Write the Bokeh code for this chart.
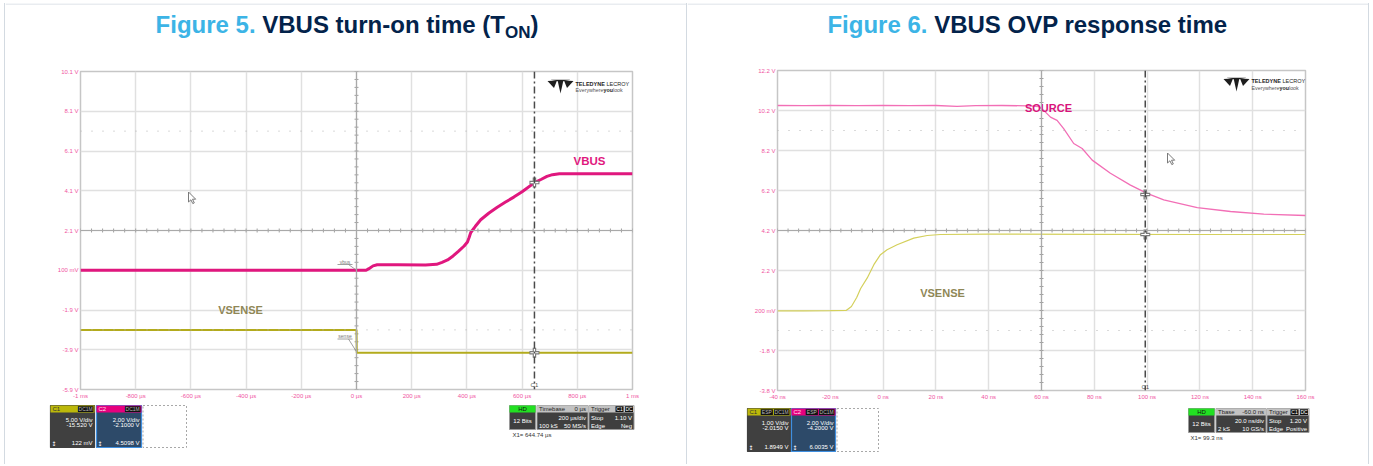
import numpy as np
from bokeh.plotting import figure
from bokeh.models import Range1d, FixedTicker, Span, Spacer
from bokeh.layouts import row, column
from bokeh.embed import file_html
from bokeh.resources import INLINE
from bokeh.core.properties import value

# ---------------- Figure 5 : VBUS turn-on time ----------------
f5_vbus_t_us = [-1000, 35, 45, 60, 75, 150, 250, 290, 310, 330, 350, 370, 390, 402, 408, 414,
                430, 450, 480, 510, 540, 570, 600, 645, 670, 690, 710, 735, 1000]
f5_vbus_v = [0.10, 0.10, 0.18, 0.32, 0.38, 0.38, 0.36, 0.40, 0.50, 0.62, 0.82, 1.06, 1.32, 1.52, 1.75, 2.00,
             2.30, 2.64, 2.98, 3.27, 3.53, 3.78, 4.05, 4.51, 4.68, 4.82, 4.91, 4.96, 4.96]
f5_vsense_t_us = [-1000, 0, 1, 1000]
f5_vsense_v = [-2.9, -2.9, -4.05, -4.05]
f5_x_ticks = [-1000, -800, -600, -400, -200, 0, 200, 400, 600, 800, 1000]
f5_x_labels = ["-1 ms", "-800 µs", "-600 µs", "-400 µs", "-200 µs", "0 µs", "200 µs", "400 µs",
               "600 µs", "800 µs", "1 ms"]
f5_y_ticks = [-5.9, -3.9, -1.9, 0.1, 2.1, 4.1, 6.1, 8.1, 10.1]
f5_y_labels = ["-5.9 V", "-3.9 V", "-1.9 V", "100 mV", "2.1 V", "4.1 V", "6.1 V", "8.1 V", "10.1 V"]
f5_cursor_t = 644.74
f5_cursor_v = [4.51, -4.05]
f5_channels = [("C1", ["DC1M"], "5.00 V/div", "-15.520 V", "122 mV"),
               ("C2", ["DC1M"], "2.00 V/div", "-2.1000 V", "4.5098 V")]
f5_timebase = ("Timebase", "0 µs", "200 µs/div", "100 kS", "50 MS/s")
f5_trigger = ("Trigger", ["C1", "DC"], "Stop", "1.10 V", "Edge", "Neg")
f5_readout = "X1=  644.74 µs"

# ---------------- Figure 6 : VBUS OVP response time ----------------
f6_source_t_ns = [-40, -30, -20, -10, 0, 10, 20, 28, 35, 45, 55, 59, 61.5, 63.4, 65.9, 68.4, 72.2, 75.4,
                  79.2, 86.1, 93.7, 100, 106.3, 119, 131.6, 144.2, 160]
f6_source_v = [10.45, 10.44, 10.46, 10.44, 10.45, 10.44, 10.45, 10.41, 10.44, 10.45, 10.43, 10.40, 10.12,
               9.87, 9.71, 9.29, 8.55, 8.30, 7.72, 7.06, 6.47, 6.06, 5.73, 5.34, 5.15, 5.02, 4.95]
f6_vsense_t_ns = [-40, -30, -20, -14, -12, -10, -8.5, -6, -3.5, -1, 1.5, 5.3, 11.6, 16.7, 21.7, 40, 80, 120, 160]
f6_vsense_v = [0.18, 0.18, 0.19, 0.20, 0.40, 0.85, 1.30, 1.83, 2.49, 2.99, 3.24, 3.49, 3.82, 3.95, 4.00,
               4.02, 4.01, 4.00, 4.00]
f6_x_ticks = [-40, -20, 0, 20, 40, 60, 80, 100, 120, 140, 160]
f6_x_labels = ["-40 ns", "-20 ns", "0 ns", "20 ns", "40 ns", "60 ns", "80 ns", "100 ns", "120 ns",
               "140 ns", "160 ns"]
f6_y_ticks = [-3.8, -1.8, 0.2, 2.2, 4.2, 6.2, 8.2, 10.2, 12.2]
f6_y_labels = ["-3.8 V", "-1.8 V", "200 mV", "2.2 V", "4.2 V", "6.2 V", "8.2 V", "10.2 V", "12.2 V"]
f6_cursor_t = 99.3
f6_cursor_v = [6.00, 4.00]
f6_channels = [("C1", ["ESP", "DC1M"], "1.00 V/div", "-2.0150 V", "1.8949 V"),
               ("C2", ["ESP", "DC1M"], "2.00 V/div", "-4.2000 V", "6.0035 V")]
f6_timebase = ("Tbase", "-60.0 ns", "20.0 ns/div", "2 kS", "10 GS/s")
f6_trigger = ("Trigger", ["C1", "DC"], "Stop", "1.20 V", "Edge", "Positive")
f6_readout = "X1=  99.3 ns"

# ---------------- styles ----------------
FONT = "Liberation Sans"
PINK = "#e0177e"
PINK_LIGHT = "#f26fb6"
OLIVE = "#b3ab1c"
YEL_LIGHT = "#d4d05c"
LBL_OLIVE = "#8f8756"
TICK_PINK = "#f0559f"
NAVY = "#03234b"
BLUE = "#3cb4e6"
BORDER = "#d3dae1"
GRID = "#e0e0e0"
ALPHA_FIX = 0.4   # em correction for alphabetic baseline placement

AW = {' ': 278, '(': 333, ')': 333, '-': 333, '.': 278, '5': 556, '6': 556, 'F': 611, 'V': 667, 'B': 722,
      'U': 722, 'S': 667, 'T': 611, 'O': 778, 'N': 722, 'P': 667, 'i': 278, 'g': 611, 'u': 611, 'r': 389,
      'e': 556, 't': 333, 'n': 611, 'o': 611, 'm': 889, 's': 556, 'p': 611}

PW = 681
TH, SH, BH = 55, 346, 60


def tw(s, size):
    return sum(AW.get(c, 600) for c in s) * size / 1000.0


def txt(p, x, y, s, color, size=6, align="left", baseline="middle", bold=False, font=FONT):
    p.text(x=[x], y=[y], text=[s], text_color=color, text_font=value(font), text_font_size=f"{size}px",
           text_align=align, text_baseline=baseline, text_font_style="bold" if bold else "normal")


def blank(width, height):
    p = figure(width=width, height=height, x_range=Range1d(0, width), y_range=Range1d(height, 0),
               output_backend="svg", toolbar_location=None, x_axis_type=None, y_axis_type=None,
               min_border=0, frame_align=False)
    p.outline_line_color = None
    p.background_fill_color = "white"
    p.border_fill_color = "white"
    return p


def title_fig(width, segments, cx, baseline):
    p = blank(width, TH)
    p.segment(x0=[0], x1=[width], y0=[0.5], y1=[0.5], line_color=BORDER, line_width=1.2)
    total = sum(tw(s, sz) for s, c, sz, dy in segments)
    x = cx - total / 2
    for s, c, sz, dy in segments:
        txt(p, x, baseline + dy - ALPHA_FIX * sz, s, c, size=sz, baseline="alphabetic", bold=True)
        x += tw(s, sz)
    return p


def scope(width, height, xr, yr, borders, xticks, xlabels, yticks, ylabels):
    l, r, t, b = borders
    p = figure(width=width, height=height, x_range=Range1d(*xr), y_range=Range1d(*yr),
               output_backend="svg", toolbar_location=None, frame_align=False,
               min_border_left=l, min_border_right=r, min_border_top=t, min_border_bottom=b)
    p.background_fill_color = "white"
    p.border_fill_color = "white"
    p.outline_line_color = "#c6c6c6"
    p.outline_line_width = 1.5
    for ax, ticks, labels in ((p.xaxis[0], xticks, xlabels), (p.yaxis[0], yticks, ylabels)):
        ax.ticker = FixedTicker(ticks=ticks)
        ax.major_label_overrides = {k: v for k, v in zip(ticks, labels)}
        ax.axis_line_color = None
        ax.major_tick_line_color = None
        ax.minor_tick_line_color = None
        ax.major_tick_in = 0
        ax.major_tick_out = 0
        ax.major_label_text_color = TICK_PINK
        ax.major_label_text_font = FONT
        ax.major_label_text_font_size = "6px"
        ax.major_label_standoff = 3
    p.yaxis[0].major_label_standoff = 2
    p.xgrid.ticker = FixedTicker(ticks=xticks)
    p.ygrid.ticker = FixedTicker(ticks=yticks)
    p.grid.grid_line_color = GRID
    p.grid.grid_line_width = 1.5
    return p


def crosshair(p, xc, yc, xr, yr, dxm, dym, hx, hy, dots):
    p.add_layout(Span(location=xc, dimension="height", line_color="#a9a9a9", line_width=1.2))
    p.add_layout(Span(location=yc, dimension="width", line_color="#a9a9a9", line_width=1.2))
    mx = np.arange(xr[0], xr[1] + 1e-9, dxm)
    p.segment(x0=mx, y0=yc - hy, x1=mx, y1=yc + hy, line_color="#a0a0a0", line_width=1)
    my = np.arange(yr[0], yr[1] + 1e-9, dym)
    p.segment(x0=xc - hx, y0=my, x1=xc + hx, y1=my, line_color="#a0a0a0", line_width=1)
    for d in dots:
        p.add_layout(Span(location=d, dimension="width", line_color="#b4b4b4", line_width=1,
                          line_dash="1 10"))


def cursor(p, xc, vs, ylab):
    p.add_layout(Span(location=xc, dimension="height", line_color="#4a4a4a", line_width=1.5,
                      line_dash="7 3 2 3"))
    p.scatter(x=[xc] * len(vs), y=vs, marker="cross", size=10, line_color="#7a7a7a", line_width=3.5)
    p.scatter(x=[xc] * len(vs), y=vs, marker="cross", size=8, line_color="white", line_width=1.2)
    txt(p, xc, ylab, "C1", "#555555", size=6, align="center")


def logo(p, X, Y, px, py, b1, b2):
    tris = [[(0, 1.5), (9.5, 1.0), (6.5, 8.5)], [(10, 0.5), (16, 0.5), (13, 14)],
            [(16.5, 1.0), (26, 1.5), (19.5, 8.5)], [(3, 0.2), (23, 0.2), (13, 2.2)]]
    p.patches(xs=[[X(px + a) for a, b in t] for t in tris], ys=[[Y(py + b) for a, b in t] for t in tris],
              fill_color="#1e1e1e", line_color=None)
    x0 = px + 28
    f1, f2 = b1 - ALPHA_FIX * 5.5, b2 - ALPHA_FIX * 5.3
    txt(p, X(x0), Y(f1), "TELEDYNE", "#1e1e1e", size=5.5, baseline="alphabetic", bold=True)
    txt(p, X(x0 + 31), Y(f1), "LECROY", "#1e1e1e", size=5.5, baseline="alphabetic")
    txt(p, X(x0), Y(f2), "Everywhere", "#555555", size=5.3, baseline="alphabetic")
    txt(p, X(x0 + 28), Y(f2), "you", "#1e1e1e", size=5.3, baseline="alphabetic", bold=True)
    txt(p, X(x0 + 37.5), Y(f2), "look", "#555555", size=5.3, baseline="alphabetic")


def pointer(p, X, Y, px, py):
    rel = [(0, 0), (0, 10), (2.4, 7.8), (4.3, 11.6), (5.8, 10.9), (4, 7.2), (7.2, 7.2)]
    p.patch(x=[X(px + a) for a, b in rel], y=[Y(py + b) for a, b in rel], fill_color="white",
            line_color="#7a7a7a", line_width=1)


def chan_box(p, x0, x1, y0, y1, hdr, hdr_txt, body, border, ch):
    name, tags, l1, l2, l3 = ch
    hh = 7
    p.quad(left=[x0], right=[x1], top=[y0], bottom=[y1], fill_color=body, line_color=border, line_width=1.2)
    p.quad(left=[x0], right=[x1], top=[y0], bottom=[y0 + hh], fill_color=hdr, line_color=None)
    txt(p, x0 + 2, y0 + hh / 2 + 0.3, name, hdr_txt, size=6)
    xr = x1 - 1
    for tg in reversed(tags):
        w = 3.4 * len(tg) + 2
        p.quad(left=[xr - w], right=[xr], top=[y0 + 0.8], bottom=[y0 + hh - 0.6], fill_color="#111111",
               line_color=None)
        txt(p, xr - w / 2, y0 + hh / 2 + 0.3, tg, "#bbbbbb", size=5, align="center")
        xr -= w + 1
    txt(p, x1 - 2, y0 + 14, l1, "white", align="right")
    txt(p, x1 - 2, y0 + 19.5, l2, "white", align="right")
    txt(p, x1 - 2, y1 - 4.5, l3, "white", align="right")
    txt(p, x0 + 3.5, y1 - 4.5, "↕", "white", size=6, align="center", font="DejaVu Sans")


def status_boxes(p, hx, y0, y1, tb, trg, tbw, trw):
    hh = 7
    dark = "#3f3f3f"
    x0, x1 = hx, hx + 26
    p.quad(left=[x0], right=[x1], top=[y0], bottom=[y1], fill_color=dark, line_color="#9a9a9a", line_width=1)
    p.quad(left=[x0], right=[x1], top=[y0], bottom=[y0 + hh], fill_color="#22e022", line_color=None)
    txt(p, (x0 + x1) / 2, y0 + hh / 2 + 0.3, "HD", "#111111", size=6, align="center")
    txt(p, (x0 + x1) / 2, y0 + 15.5, "12 Bits", "white", size=6, align="center")
    x0, x1 = hx + 27.5, hx + 27.5 + tbw
    name, off, div, ks, rate = tb
    p.quad(left=[x0], right=[x1], top=[y0], bottom=[y1], fill_color=dark, line_color="#9a9a9a", line_width=1)
    p.quad(left=[x0], right=[x1], top=[y0], bottom=[y0 + hh], fill_color="#c2c2c2", line_color=None)
    txt(p, x0 + 2, y0 + hh / 2 + 0.3, name, "#222222", size=6)
    txt(p, x1 - 2, y0 + hh / 2 + 0.3, off, "#222222", size=6, align="right")
    txt(p, x1 - 2, y0 + 12.5, div, "white", align="right")
    txt(p, x0 + 2, y0 + 20, ks, "white")
    txt(p, x1 - 2, y0 + 20, rate, "white", align="right")
    x0, x1 = x1 + 1, x1 + 1 + trw
    name, tags, a1, b1, a2, b2 = trg
    p.quad(left=[x0], right=[x1], top=[y0], bottom=[y1], fill_color=dark, line_color="#9a9a9a", line_width=1)
    p.quad(left=[x0], right=[x1], top=[y0], bottom=[y0 + hh], fill_color="#c2c2c2", line_color=None)
    txt(p, x0 + 2, y0 + hh / 2 + 0.3, name, "#222222", size=6)
    xr = x1 - 1
    for tg in reversed(tags):
        w = 8
        p.quad(left=[xr - w], right=[xr], top=[y0 + 0.8], bottom=[y0 + hh - 0.6], fill_color="#111111",
               line_color=None)
        txt(p, xr - w / 2, y0 + hh / 2 + 0.3, tg, "white", size=5, align="center")
        xr -= w + 1.5
    txt(p, x0 + 2, y0 + 12.5, a1, "white")
    txt(p, x1 - 2, y0 + 12.5, b1, "white", align="right")
    txt(p, x0 + 2, y0 + 20, a2, "white")
    txt(p, x1 - 2, y0 + 20, b2, "white", align="right")


# ================= Figure 5 panel (page x origin 5, y origin 3) =================
t5 = title_fig(PW, [("Figure 5. ", BLUE, 24, 0), ("VBUS turn-on time (T", NAVY, 24, 0),
                    ("ON", NAVY, 17, 5), (")", NAVY, 24, 0)], 341.5, 31)

s5 = scope(PW, SH, (-1000, 1000), (-5.9, 10.1), (75, 54, 13, 15),
           f5_x_ticks, f5_x_labels, f5_y_ticks, f5_y_labels)
X5 = lambda px: -1000 + (px - 80) * 2000 / 552
Y5 = lambda py: 10.1 - (py - 71) * 16 / 318
crosshair(s5, 0, 2.1, (-1000, 1000), (-5.9, 10.1), 40, 0.4, 7.2, 0.1, [7.1, -2.9])
s5.line(f5_vsense_t_us, f5_vsense_v, line_color=OLIVE, line_width=2)
s5.line(f5_vbus_t_us, f5_vbus_v, line_color=PINK, line_width=3)
cursor(s5, f5_cursor_t, f5_cursor_v, Y5(384.5))
txt(s5, X5(589), Y5(160), "VBUS", PINK, size=11.5, align="center", bold=True)
txt(s5, X5(240), -1.9, "VSENSE", LBL_OLIVE, size=11, align="center", bold=True)
for lab, py_t, vy in (("vbus", 261, 0.1), ("sense", 335.5, -4.0)):
    txt(s5, X5(344.5), Y5(py_t), lab, "#777777", size=5, align="center")
    s5.segment(x0=[X5(337)], x1=[X5(352)], y0=[Y5(py_t + 3)], y1=[Y5(py_t + 3)], line_color="#888888",
               line_width=0.8)
    s5.segment(x0=[X5(348)], x1=[0], y0=[Y5(py_t + 3)], y1=[vy], line_color="#888888", line_width=0.8)
logo(s5, X5, Y5, 547, 79, 85.5, 91.5)
pointer(s5, X5, Y5, 188, 191.5)

b5 = blank(PW, BH)
chan_box(b5, 45, 89, 1, 43, "#bcb80a", "#333333", "#404040", "#404040", f5_channels[0])
chan_box(b5, 91, 136, 1, 43, "#e6007e", "#ffe0f0", "#2d4a69", "#3f8fe0", f5_channels[1])
b5.quad(left=[137.5], right=[181], top=[1], bottom=[43], fill_color=None, line_color="#a8a8a8",
        line_dash="2 2", line_width=1)
status_boxes(b5, 504, 1, 25, f5_timebase, f5_trigger, 51, 45)
txt(b5, 507, 30, f5_readout, "#333333", size=6)

left_panel = column(t5, s5, b5)

# ================= Figure 6 panel (page x origin 687, y origin 3) =================
t6 = title_fig(PW, [("Figure 6. ", BLUE, 24, 0), ("VBUS OVP response time", NAVY, 24, 0)], 340, 31)

s6 = scope(PW, SH, (-40, 160), (-3.8, 12.2), (90, 63, 12, 14),
           f6_x_ticks, f6_x_labels, f6_y_ticks, f6_y_labels)
X6 = lambda px: -40 + (px - 777) * 200 / 528
Y6 = lambda py: 12.2 - (py - 70) * 16 / 320
crosshair(s6, 60, 4.2, (-40, 160), (-3.8, 12.2), 4, 0.4, 0.76, 0.1, [9.2, -0.8])
s6.line(f6_vsense_t_ns, f6_vsense_v, line_color=YEL_LIGHT, line_width=1.2)
s6.line(f6_source_t_ns, f6_source_v, line_color=PINK_LIGHT, line_width=1.3)
cursor(s6, f6_cursor_t, f6_cursor_v, Y6(386.5))
txt(s6, X6(1048), Y6(107), "SOURCE", "#d8137c", size=11, align="center", bold=True)
txt(s6, X6(942), Y6(292), "VSENSE", LBL_OLIVE, size=11, align="center", bold=True)
logo(s6, X6, Y6, 1223, 77, 83, 89.5)
pointer(s6, X6, Y6, 1167, 152.5)

b6 = blank(PW, BH)
chan_box(b6, 60, 103, 4, 47, "#bcb80a", "#333333", "#404040", "#404040", f6_channels[0])
chan_box(b6, 104, 148, 4, 47, "#e6007e", "#ffe0f0", "#2d4a69", "#3f8fe0", f6_channels[1])
b6.quad(left=[149.5], right=[191], top=[4], bottom=[47], fill_color=None, line_color="#a8a8a8",
        line_dash="2 2", line_width=1)
status_boxes(b6, 501, 4, 28, f6_timebase, f6_trigger, 50, 42)
txt(b6, 503, 33.5, f6_readout, "#333333", size=6)

right_panel = column(t6, s6, b6)


def vline():
    return Spacer(width=1, height=TH + SH + BH, styles={"background-color": BORDER})


layout = column(Spacer(height=3),
                row(Spacer(width=4), vline(), left_panel, vline(), right_panel, vline()))
open("out.html", "w").write(file_html(layout, INLINE))
